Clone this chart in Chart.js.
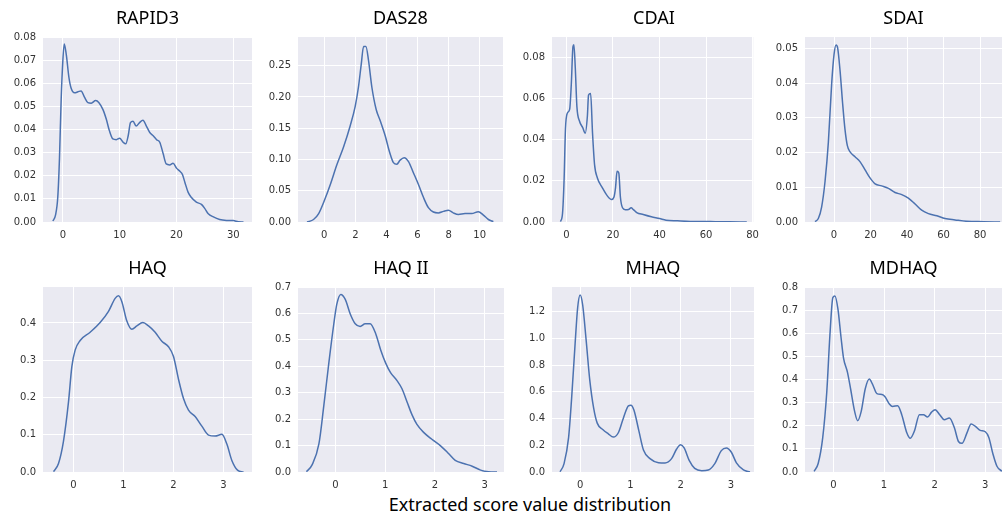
<!DOCTYPE html>
<html>
<head>
<meta charset="utf-8">
<script src="https://cdn.jsdelivr.net/npm/chart.js@4.4.1/dist/chart.umd.min.js"></script>
<style>
  html, body { margin: 0; padding: 0; background: #fff; overflow: hidden; }
  body { width: 1003px; height: 518px; position: relative; font-family: "Noto Sans", sans-serif; }
  canvas { position: absolute; }
  .titulo { position: absolute; width: 220px; text-align: center; font-size: 18px; line-height: 20px; color: #000; }
  #rotulo { position: absolute; left: 330px; top: 492px; width: 400px; text-align: center; font-size: 18px; line-height: 24px; color: #000; }
</style>
</head>
<body>
<div id="rotulo">Extracted score value distribution</div>
<script>
// Density curves, one pair of arrays per panel.
const titles = ['RAPID3', 'DAS28', 'CDAI', 'SDAI', 'HAQ', 'HAQ II', 'MHAQ', 'MDHAQ'];

const rapid3X = [-1.76, -1.3, -0.9, -0.6, -0.3, 0, 0.24, 0.6, 1.06, 1.47, 2.06, 2.65, 3.2, 3.8, 4.4, 5.0, 5.76, 6.35, 7.06, 7.65, 8.2, 8.8, 9.4, 10, 10.6, 11.06, 11.5, 11.9, 12.35, 12.9, 13.5, 14.1, 14.7, 15.3, 15.9, 16.5, 17.06, 17.65, 18.2, 18.8, 19.4, 20, 20.6, 21.06, 21.5, 22.06, 22.6, 23.5, 24.4, 25, 25.6, 26.5, 27.6, 28.8, 30, 30.9, 31.8];
const rapid3Y = [0.0004, 0.003, 0.0107, 0.0275, 0.053, 0.07, 0.077, 0.0724, 0.0626, 0.0577, 0.0559, 0.0563, 0.0567, 0.054, 0.0516, 0.0514, 0.0525, 0.0516, 0.0486, 0.0444, 0.0394, 0.0359, 0.0356, 0.0362, 0.0345, 0.0338, 0.0373, 0.043, 0.0436, 0.0415, 0.043, 0.044, 0.0415, 0.0387, 0.0373, 0.0356, 0.0345, 0.0296, 0.0251, 0.0247, 0.0254, 0.0233, 0.0219, 0.0205, 0.017, 0.0128, 0.0107, 0.0086, 0.0076, 0.0058, 0.0036, 0.0022, 0.0011, 0.0007, 0.0006, 0.0001, 0];

const das28X = [-1.11, -0.69, -0.36, 0, 0.39, 0.81, 1.24, 1.67, 1.99, 2.2, 2.38, 2.53, 2.68, 2.85, 3.06, 3.34, 3.6, 3.92, 4.2, 4.45, 4.67, 4.88, 5.14, 5.42, 5.74, 6.06, 6.38, 6.7, 7.02, 7.34, 7.67, 7.99, 8.3, 8.63, 9.06, 9.49, 9.91, 10.24, 10.56, 10.88];
const das28Y = [0, 0.004, 0.0135, 0.034, 0.06, 0.0915, 0.12, 0.154, 0.185, 0.216, 0.2526, 0.281, 0.281, 0.258, 0.216, 0.18, 0.162, 0.138, 0.112, 0.095, 0.0925, 0.099, 0.103, 0.0967, 0.0785, 0.06, 0.0395, 0.0229, 0.016, 0.0146, 0.017, 0.0187, 0.0146, 0.012, 0.0135, 0.0135, 0.0166, 0.011, 0.004, 0.0005];

const cdaiX = [-2.53, -1.68, -0.98, -0.42, 0.42, 1.4, 2.1, 2.8, 3.2, 3.8, 4.5, 5.6, 7.0, 8.1, 9.0, 9.5, 10.4, 11.2, 12.1, 13.3, 15.4, 17.5, 19.4, 20.4, 21.1, 21.75, 22.5, 23.2, 24.1, 25.3, 26.7, 27.8, 28.8, 30.2, 33, 36.5, 40, 42.8, 47.7, 53.3, 61.8, 70.2, 77.5];
const cdaiY = [0.0002, 0.0041, 0.0214, 0.045, 0.0529, 0.0548, 0.067, 0.085, 0.086, 0.075, 0.056, 0.049, 0.0458, 0.0431, 0.0513, 0.0616, 0.0624, 0.0435, 0.0277, 0.0214, 0.0167, 0.0128, 0.0109, 0.012, 0.0167, 0.0246, 0.0238, 0.012, 0.0069, 0.006, 0.0061, 0.0069, 0.006, 0.0046, 0.0036, 0.0025, 0.0017, 0.0009, 0.0006, 0.0003, 0.0002, 0.0001, 0];

const sdaiX = [-10.4, -8.6, -6.8, -4.9, -3.1, -1.3, 0, 1.1, 2.0, 3.3, 4.7, 6.0, 7.3, 8.8, 11.5, 14.2, 17.0, 19.7, 22.5, 26.1, 29.8, 33.4, 37.1, 40.7, 44.4, 48, 51.7, 56.3, 60.8, 66.3, 72.7, 81.8, 91];
const sdaiY = [0.0001, 0.001, 0.0043, 0.0118, 0.023, 0.0398, 0.0482, 0.051, 0.0501, 0.0436, 0.0342, 0.0267, 0.022, 0.0202, 0.0188, 0.0174, 0.015, 0.0127, 0.011, 0.0104, 0.0097, 0.0085, 0.0079, 0.0069, 0.0052, 0.0034, 0.0024, 0.0018, 0.001, 0.0006, 0.0002, 0.0001, 0];

const haqX = [-0.4, -0.3, -0.2, -0.1, -0.033, 0.033, 0.133, 0.333, 0.533, 0.7, 0.833, 0.9, 0.967, 1.067, 1.167, 1.267, 1.387, 1.5, 1.633, 1.767, 1.9, 2.0, 2.1, 2.2, 2.3, 2.433, 2.567, 2.7, 2.833, 2.967, 3.067, 3.167, 3.28, 3.4];
const haqY = [0.001, 0.023, 0.083, 0.188, 0.283, 0.327, 0.353, 0.375, 0.401, 0.431, 0.466, 0.473, 0.457, 0.405, 0.383, 0.392, 0.401, 0.392, 0.375, 0.351, 0.336, 0.31, 0.249, 0.197, 0.166, 0.149, 0.123, 0.099, 0.0965, 0.101, 0.075, 0.031, 0.005, 0];

const haq2X = [-0.58, -0.47, -0.33, -0.23, -0.13, -0.03, 0.03, 0.11, 0.2, 0.3, 0.4, 0.5, 0.6, 0.7, 0.81, 0.91, 1.01, 1.11, 1.24, 1.34, 1.44, 1.54, 1.64, 1.78, 1.94, 2.11, 2.28, 2.41, 2.58, 2.75, 2.92, 3.08, 3.25];
const haq2Y = [0.001, 0.026, 0.106, 0.253, 0.413, 0.561, 0.635, 0.672, 0.653, 0.598, 0.561, 0.551, 0.561, 0.561, 0.524, 0.463, 0.413, 0.376, 0.346, 0.315, 0.266, 0.217, 0.18, 0.149, 0.124, 0.1, 0.069, 0.044, 0.032, 0.022, 0.007, 0.001, 0];

const mhaqX = [-0.4, -0.32, -0.23, -0.17, -0.1, -0.05, 0, 0.05, 0.12, 0.19, 0.27, 0.34, 0.45, 0.56, 0.66, 0.76, 0.86, 0.96, 1.01, 1.07, 1.17, 1.26, 1.39, 1.56, 1.69, 1.82, 1.92, 2.0, 2.07, 2.17, 2.28, 2.42, 2.55, 2.68, 2.81, 2.91, 3.01, 3.11, 3.25, 3.38];
const mhaqY = [0.002, 0.063, 0.257, 0.549, 0.961, 1.228, 1.325, 1.252, 0.985, 0.694, 0.476, 0.366, 0.318, 0.286, 0.262, 0.294, 0.403, 0.495, 0.5, 0.464, 0.306, 0.165, 0.1, 0.07, 0.068, 0.1, 0.172, 0.204, 0.18, 0.087, 0.027, 0.01, 0.015, 0.063, 0.16, 0.18, 0.148, 0.068, 0.015, 0];

const mdhaqX = [-0.38, -0.3, -0.21, -0.13, -0.07, -0.01, 0.03, 0.09, 0.15, 0.2, 0.28, 0.34, 0.42, 0.48, 0.55, 0.63, 0.71, 0.77, 0.86, 0.96, 1.02, 1.11, 1.17, 1.27, 1.35, 1.45, 1.52, 1.6, 1.7, 1.78, 1.86, 1.94, 2.01, 2.1, 2.19, 2.29, 2.39, 2.47, 2.54, 2.64, 2.72, 2.8, 2.9, 3.0, 3.07, 3.15, 3.23, 3.33];
const mdhaqY = [0.003, 0.037, 0.149, 0.346, 0.585, 0.754, 0.761, 0.705, 0.585, 0.494, 0.43, 0.36, 0.262, 0.222, 0.262, 0.36, 0.402, 0.381, 0.339, 0.335, 0.325, 0.293, 0.283, 0.287, 0.248, 0.17, 0.146, 0.177, 0.248, 0.248, 0.238, 0.259, 0.269, 0.248, 0.226, 0.233, 0.191, 0.132, 0.124, 0.17, 0.208, 0.198, 0.18, 0.174, 0.149, 0.079, 0.025, 0.003];

// Tick values and label decimals per panel.
const xTicks = [[0, 10, 20, 30], [0, 2, 4, 6, 8, 10], [0, 20, 40, 60, 80], [0, 20, 40, 60, 80], [0, 1, 2, 3], [0, 1, 2, 3], [0, 1, 2, 3], [0, 1, 2, 3]];
const yTicks = [
  [0, 0.01, 0.02, 0.03, 0.04, 0.05, 0.06, 0.07, 0.08],
  [0, 0.05, 0.10, 0.15, 0.20, 0.25],
  [0, 0.02, 0.04, 0.06, 0.08],
  [0, 0.01, 0.02, 0.03, 0.04, 0.05],
  [0, 0.1, 0.2, 0.3, 0.4],
  [0, 0.1, 0.2, 0.3, 0.4, 0.5, 0.6, 0.7],
  [0, 0.2, 0.4, 0.6, 0.8, 1.0, 1.2],
  [0, 0.1, 0.2, 0.3, 0.4, 0.5, 0.6, 0.7, 0.8],
];
const yDecimals = [2, 2, 2, 2, 1, 1, 1, 1];

// Axis limits per panel.
const xLimits = [[-3.5, 33.3], [-1.69, 11.5], [-6.2, 80.3], [-15.9, 92], [-0.61, 3.57], [-0.75, 3.39], [-0.56, 3.46], [-0.56, 3.33]];
const yLimits = [[0, 0.08], [0, 0.296], [0, 0.0898], [0, 0.0533], [0, 0.4965], [0, 0.7], [0, 1.385], [0, 0.8]];

// Plot boxes on the page (left, top, right, bottom).
const caixas = [
  [43, 32, 252, 222], [298, 32, 503, 222], [552, 32, 756, 222], [805, 32, 1002, 222],
  [43, 282, 252, 472], [298, 282, 504, 472], [552, 282, 754, 472], [805, 282, 1002, 472],
];

const series = [
  [rapid3X, rapid3Y], [das28X, das28Y], [cdaiX, cdaiY], [sdaiX, sdaiY],
  [haqX, haqY], [haq2X, haq2Y], [mhaqX, mhaqY], [mdhaqX, mdhaqY],
];

const PAD_L = 40, PAD_T = 8, PAD_R = 10, PAD_B = 22;
const TICK_FONT = { family: 'DejaVu Sans', size: 10 };

// Seaborn-like grey plot area behind the grid.
const fundo = {
  id: 'fundo',
  beforeDraw(chart) {
    const a = chart.chartArea;
    chart.ctx.save();
    chart.ctx.fillStyle = '#EAEAF2';
    chart.ctx.fillRect(a.left, a.top, a.right - a.left, a.bottom - a.top);
    chart.ctx.restore();
  },
};

function desenharPainel(i) {
  const [l, t, r, b] = caixas[i];
  const w = r - l + PAD_L + PAD_R;
  const h = b - t + PAD_T + PAD_B;

  const cv = document.createElement('canvas');
  cv.width = w;
  cv.height = h;
  cv.style.left = (l - PAD_L) + 'px';
  cv.style.top = (t - PAD_T) + 'px';
  cv.style.width = w + 'px';
  cv.style.height = h + 'px';
  document.body.appendChild(cv);

  const tit = document.createElement('div');
  tit.className = 'titulo';
  tit.textContent = titles[i];
  tit.style.left = ((l + r) / 2 - 110) + 'px';
  tit.style.top = (t - 25) + 'px';
  document.body.appendChild(tit);

  const [xs, ys] = series[i];
  const pontos = xs.map((x, k) => ({ x, y: ys[k] }));

  new Chart(cv, {
    type: 'line',
    data: {
      datasets: [{
        data: pontos,
        borderColor: '#4C72B0',
        borderWidth: 1.5,
        pointRadius: 0,
        fill: false,
        cubicInterpolationMode: 'monotone',
      }],
    },
    options: {
      responsive: false,
      animation: false,
      layout: { padding: { top: PAD_T, right: PAD_R, left: 0, bottom: 0 } },
      plugins: { legend: { display: false }, tooltip: { enabled: false } },
      scales: {
        x: {
          type: 'linear',
          min: xLimits[i][0],
          max: xLimits[i][1],
          afterBuildTicks: (s) => { s.ticks = xTicks[i].map((v) => ({ value: v })); },
          afterFit: (s) => { s.height = PAD_B; },
          grid: { color: '#ffffff', lineWidth: 1, drawTicks: false },
          border: { display: false },
          ticks: { color: '#333', font: TICK_FONT, padding: 7, maxRotation: 0, callback: (v) => String(v) },
        },
        y: {
          type: 'linear',
          min: yLimits[i][0],
          max: yLimits[i][1],
          afterBuildTicks: (s) => { s.ticks = yTicks[i].map((v) => ({ value: v })); },
          afterFit: (s) => { s.width = PAD_L; },
          grid: { color: '#ffffff', lineWidth: 1, drawTicks: false },
          border: { display: false },
          ticks: { color: '#333', font: TICK_FONT, padding: 7, callback: (v) => Number(v).toFixed(yDecimals[i]) },
        },
      },
    },
    plugins: [fundo],
  });
}

for (let i = 0; i < titles.length; i++) desenharPainel(i);
</script>
</body>
</html>
